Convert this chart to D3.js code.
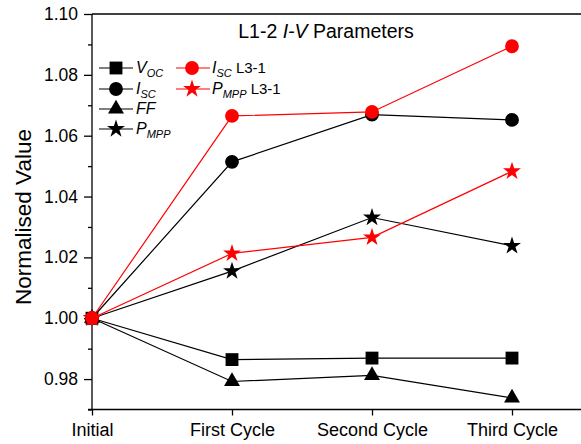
<!DOCTYPE html>
<html>
<head>
<meta charset="utf-8">
<script src="https://cdn.jsdelivr.net/npm/d3@7"></script>
<style>
  html, body { margin: 0; padding: 0; background: #fff; }
  svg { display: block; font-family: Arial, "Liberation Sans", Helvetica, sans-serif; }
</style>
</head>
<body>
<svg id="chart" width="581" height="444"></svg>
<script>
// Measurement stages
const stages = ["Initial", "First Cycle", "Second Cycle", "Third Cycle"];

// Normalised I-V parameters, sample L1-2
const vocL12  = [1.000, 0.9864, 0.9869, 0.9869];
const iscL12  = [1.000, 1.0514, 1.0669, 1.0652];
const ffL12   = [1.000, 0.9792, 0.9812, 0.9738];
const pmppL12 = [1.000, 1.0155, 1.0331, 1.0238];

// Reference sample L3-1
const iscL31  = [1.000, 1.0665, 1.0678, 1.0894];
const pmppL31 = [1.000, 1.0213, 1.0266, 1.0483];

// Y-axis ticks
const majorTicks = [0.98, 1.00, 1.02, 1.04, 1.06, 1.08, 1.10];
const minorTicks = [0.97, 0.99, 1.01, 1.03, 1.05, 1.07, 1.09];

const series = [
  { name: "V", sub: "OC",  suffix: "",      values: vocL12,  color: "#000000", symbol: "square" },
  { name: "I", sub: "SC",  suffix: "",      values: iscL12,  color: "#000000", symbol: "circle" },
  { name: "FF", sub: "",   suffix: "",      values: ffL12,   color: "#000000", symbol: "triangle" },
  { name: "P", sub: "MPP", suffix: "",      values: pmppL12, color: "#000000", symbol: "star" },
  { name: "I", sub: "SC",  suffix: " L3-1", values: iscL31,  color: "#ff0000", symbol: "circle" },
  { name: "P", sub: "MPP", suffix: " L3-1", values: pmppL31, color: "#ff0000", symbol: "star" }
];

const plotLeft = 92, plotTop = 14, plotBottom = 409.5, plotRight = 581;

const svg = d3.select("#chart");

const x = d3.scalePoint().domain(stages).range([plotLeft, 512]);
const y = d3.scaleLinear().domain([0.97, 1.10]).range([plotBottom, plotTop]);

const symbolTypes = {
  square: d3.symbolSquare,
  circle: d3.symbolCircle,
  triangle: d3.symbolTriangle,
  star: d3.symbolStar
};
const symbolSizes = { square: 165, circle: 150, triangle: 110, star: 100 };
const symbolPath = s => d3.symbol().type(symbolTypes[s]).size(symbolSizes[s])();

// Frame: top edge
svg.append("line")
  .attr("x1", plotLeft).attr("x2", plotRight).attr("y1", y(1.10)).attr("y2", y(1.10))
  .attr("stroke", "#000").attr("stroke-width", 1.3);

// Y axis with major and minor ticks
const yAxis = svg.append("g").attr("transform", `translate(${plotLeft},0)`)
  .call(d3.axisLeft(y).tickValues(majorTicks).tickFormat(d3.format(".2f"))
    .tickSize(8).tickPadding(6).tickSizeOuter(0));
yAxis.select(".domain").remove();
yAxis.selectAll(".tick line").attr("stroke-width", 1.3);
yAxis.selectAll(".tick text")
  .attr("font-size", 17.5).attr("font-family", "Arial, 'Liberation Sans', sans-serif").attr("fill", "#000");

const yMinor = svg.append("g").attr("transform", `translate(${plotLeft},0)`)
  .call(d3.axisLeft(y).tickValues(minorTicks).tickSize(4).tickFormat(""));
yMinor.select(".domain").remove();
yMinor.selectAll(".tick line").attr("stroke-width", 1.3);

// X axis
const xAxis = svg.append("g").attr("transform", `translate(0,${plotBottom})`)
  .call(d3.axisBottom(x).tickSize(6).tickPadding(8).tickSizeOuter(0));
xAxis.select(".domain").remove();
xAxis.selectAll(".tick line").attr("stroke-width", 1.3);
xAxis.selectAll(".tick text")
  .attr("font-size", 18).attr("font-family", "Arial, 'Liberation Sans', sans-serif").attr("fill", "#000");

// Axis lines
svg.append("line")
  .attr("x1", plotLeft - 4).attr("x2", plotRight).attr("y1", plotBottom).attr("y2", plotBottom)
  .attr("stroke", "#000").attr("stroke-width", 1.3);
svg.append("line")
  .attr("x1", plotLeft).attr("x2", plotLeft).attr("y1", y(1.10)).attr("y2", plotBottom)
  .attr("stroke", "#000").attr("stroke-width", 1.3);

// Axis title
svg.append("text")
  .attr("transform", `translate(31,217) rotate(-90)`)
  .attr("text-anchor", "middle")
  .attr("font-size", 22.5)
  .text("Normalised Value");

// Chart title
const title = svg.append("text")
  .attr("x", 326).attr("y", 38)
  .attr("text-anchor", "middle")
  .attr("font-size", 19.5);
title.append("tspan").text("L1-2 ");
title.append("tspan").attr("font-style", "italic").text("I-V");
title.append("tspan").text(" Parameters");

// Data lines and markers
const line = d3.line().x((d, i) => x(stages[i])).y(d => y(d));
series.forEach(s => {
  const g = svg.append("g");
  g.append("path")
    .attr("d", line(s.values))
    .attr("fill", "none")
    .attr("stroke", s.color)
    .attr("stroke-width", 1.2);
  g.selectAll("path.mark")
    .data(s.values)
    .join("path")
    .attr("class", "mark")
    .attr("transform", (d, i) => `translate(${x(stages[i])},${y(d)})`)
    .attr("d", symbolPath(s.symbol))
    .attr("fill", s.color);
});

// Legend
const legendPos = [
  { lx: 99, mx: 116, tx: 136, ty: 68 },
  { lx: 99, mx: 116, tx: 136, ty: 89 },
  { lx: 99, mx: 116, tx: 136, ty: 109 },
  { lx: 99, mx: 116, tx: 136, ty: 129 },
  { lx: 176, mx: 192, tx: 212, ty: 68 },
  { lx: 176, mx: 192, tx: 212, ty: 89 }
];
series.forEach((s, i) => {
  const p = legendPos[i];
  const g = svg.append("g");
  g.append("line")
    .attr("x1", p.lx).attr("x2", p.lx + 34)
    .attr("y1", p.ty).attr("y2", p.ty)
    .attr("stroke", s.color).attr("stroke-width", 1.2);
  g.append("path")
    .attr("transform", `translate(${p.mx},${p.ty})`)
    .attr("d", symbolPath(s.symbol))
    .attr("fill", s.color);
  const t = g.append("text")
    .attr("x", p.tx).attr("y", p.ty + 5)
    .attr("font-size", 16);
  t.append("tspan").attr("font-style", "italic").text(s.name);
  if (s.sub) {
    t.append("tspan").attr("font-style", "italic").attr("font-size", 11)
      .attr("dy", 4).text(s.sub);
  }
  if (s.suffix) {
    t.append("tspan").attr("font-size", 15).attr("dy", s.sub ? -4 : 0).text(s.suffix);
  }
});
</script>
</body>
</html>
